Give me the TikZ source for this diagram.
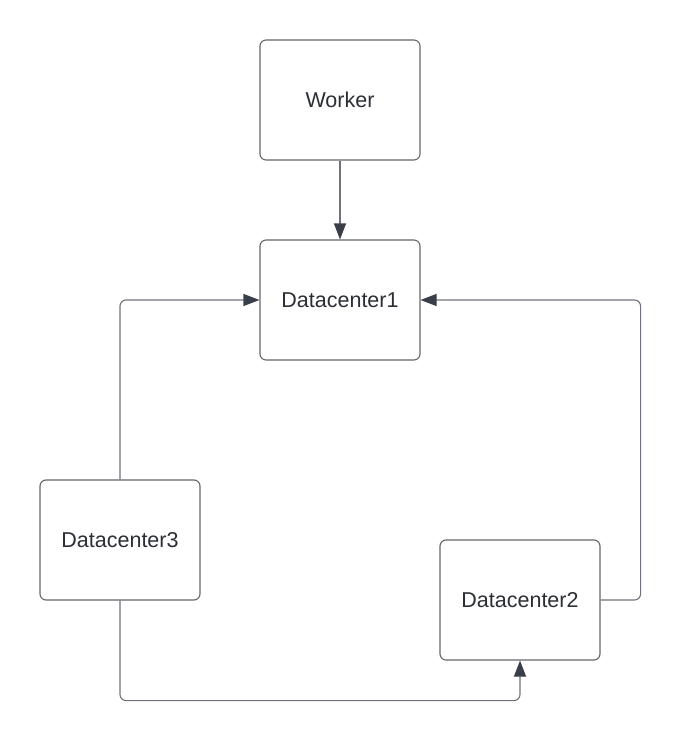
\documentclass[tikz,border=0pt]{standalone}
\usepackage{fontspec}
\setmainfont{Liberation Sans}
\usetikzlibrary{arrows.meta}
\definecolor{boxline}{HTML}{63666B}
\definecolor{conn}{HTML}{6E737B}
\definecolor{tipcol}{HTML}{3A3E48}
\definecolor{txt}{HTML}{2B2E35}

\begin{document}
\begin{tikzpicture}[x=1pt,y=-1pt,
  dcbox/.style={draw=boxline,line width=1.1pt,rounded corners=6pt,minimum width=160pt,minimum height=120pt,
    text=txt,font=\fontsize{21.5}{26}\selectfont,inner sep=0pt},
  link/.style={draw=conn,line width=1.1pt,rounded corners=6pt,-{Triangle[length=16pt,width=12pt,color=tipcol]}}]
\useasboundingbox (0,0) rectangle (681,741);
% boxes
\node[dcbox] (worker) at (340,100) {Worker};
\node[dcbox] (dc1) at (340,300) {Datacenter1};
\node[dcbox] (dc3) at (120,540) {Datacenter3};
\node[dcbox] (dc2) at (520,600) {Datacenter2};
% connectors
\draw[link] (worker.south) -- (dc1.north);
\draw[link] (dc3.north) |- (dc1.west);
\draw[link] (dc2.east) -- ++(40,0) |- (dc1.east);
\draw[link] (dc3.south) -- ++(0,100) -| (dc2.south);
\end{tikzpicture}
\end{document}
